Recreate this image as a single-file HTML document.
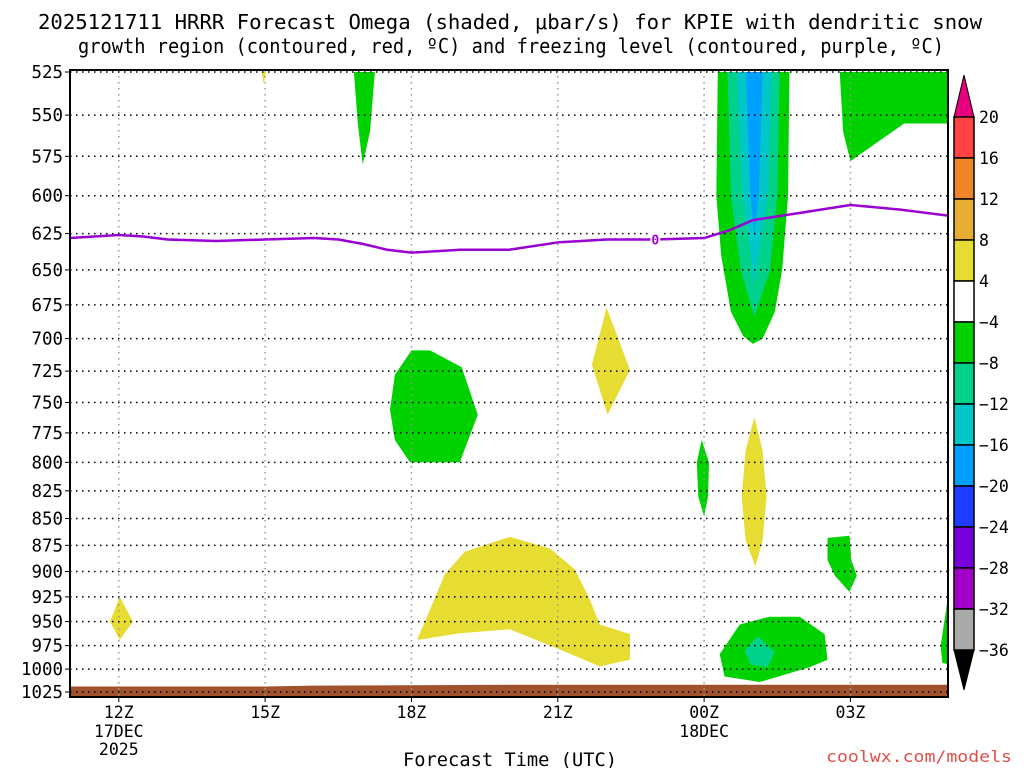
<!DOCTYPE html>
<html><head><meta charset="utf-8"><style>
body{margin:0;background:#fff;}
svg{display:block;font-family:"DejaVu Sans Mono","Liberation Mono",monospace;}
</style></head><body>
<svg id="c" width="1024" height="768" xmlns="http://www.w3.org/2000/svg">
<text x="38" y="29" font-size="20" textLength="944" lengthAdjust="spacingAndGlyphs">2025121711 HRRR Forecast Omega (shaded, μbar/s) for KPIE with dendritic snow</text>
<text x="78" y="53" font-size="20" textLength="866" lengthAdjust="spacingAndGlyphs">growth region (contoured, red, ºC) and freezing level (contoured, purple, ºC)</text>
<text x="403" y="766" font-size="19" textLength="214" lengthAdjust="spacingAndGlyphs">Forecast Time (UTC)</text>
<text x="826" y="762" font-size="16" fill="#e0504a" textLength="186" lengthAdjust="spacingAndGlyphs">coolwx.com/models</text>
<g id="plot"></g>
</svg>
<script>
const pLevels=[525,550,575,600,625,650,675,700,725,750,775,800,825,850,875,900,925,950,975,1000,1025];
const xTicks=[1,4,7,10,13,16];
const xTickLabels=["12Z","15Z","18Z","21Z","00Z","03Z"];
const xDateLabels=[["17DEC","2025"],[],[],[],["18DEC"],[]];
const cbLevels=[20,16,12,8,4,-4,-8,-12,-16,-20,-24,-28,-32,-36];
const cbColors=["#ff4242","#f0852a","#e6ad32","#e6dc32","#ffffff","#00d200","#00d28c","#00c8c8","#00a0ff","#1e3cff","#7800dc","#a000c8","#aaaaaa"];
const freezeHours=[0,0.5,1,1.5,2,3,4,5,5.5,6,6.5,7,7.5,8,9,10,11,12,13,13.5,14,15,16,17,18];
const freezeP=[628,627,626,627,629,630,629,628,629,632,636,638,637,636,636,631,629,629,628,623,616,611,606,609,613];
const labelHour=12;
const surfaceHours=[0,4,5,9,18];
const surfaceP=[1019,1019,1018,1017,1017];
const shadedAreas=[
["#00d200",[[5.82,525],[6.25,525],[6.15,560],[6.0,580],[5.9,555]]],
["#e6dc32",[[3.93,525],[4.02,525],[3.97,532]]],
["#00d200",[[15.78,525],[18,525],[18,555],[17.1,555],[16.0,578],[15.85,560]]],
["#00d200",[[13.28,525],[14.75,525],[14.72,600],[14.6,650],[14.45,680],[14.2,700],[14.0,704],[13.8,698],[13.55,680],[13.35,640],[13.25,600]]],
["#00d28c",[[13.48,525],[14.55,525],[14.5,600],[14.35,650],[14.03,684],[13.75,650],[13.55,600]]],
["#00c8c8",[[13.67,525],[14.39,525],[14.3,600],[14.03,660],[13.8,600]]],
["#00a0ff",[[13.85,525],[14.2,525],[14.12,600],[14.03,626],[13.95,600]]],
["#00d200",[[6.56,756],[6.66,728],[7.0,709],[7.38,709],[8.03,722],[8.36,760],[7.99,800],[6.97,800],[6.66,781]]],
["#e6dc32",[[11.0,677],[11.48,724],[11.02,760],[10.7,720]]],
["#00d200",[[12.95,781],[13.1,800],[13.08,830],[13.0,848],[12.88,830],[12.85,800]]],
["#e6dc32",[[14.03,762],[14.2,790],[14.28,830],[14.2,870],[14.05,895],[13.85,870],[13.77,830],[13.85,790]]],
["#00d200",[[15.53,868],[15.98,866],[16.02,889],[16.13,904],[15.98,920],[15.68,904],[15.53,889]]],
["#e6dc32",[[7.13,967],[7.38,938],[7.68,903],[8.09,881],[9.02,867],[9.84,878],[10.35,898],[10.66,928],[10.86,953],[11.48,963],[11.48,990],[10.86,997],[10.04,979],[9.02,958],[7.99,962],[7.13,969]]],
["#e6dc32",[[1.02,925],[1.29,950],[1.02,969],[0.82,950]]],
["#00d200",[[13.32,984],[13.73,953],[14.34,945],[14.96,945],[15.47,963],[15.53,990],[15.16,998],[14.14,1014],[13.42,1008]]],
["#00d28c",[[14.1,965],[14.45,982],[14.3,998],[13.95,995],[13.83,980]]],
["#00d200",[[18,925],[17.85,975],[17.88,993],[18,995]]]
];
const X0=70,X1=948,Y0=72,Y1=692,H0=0,H1=18,PT=525,PB=1025;
function xS(h){return X0+(h-H0)/(H1-H0)*(X1-X0);}
function yS(p){return Y0+Math.log(p/PT)/Math.log(PB/PT)*(Y1-Y0);}
const NS="http://www.w3.org/2000/svg";
const g=document.getElementById('plot');
function mk(t,a,parent){const e=document.createElementNS(NS,t);for(const k in a)e.setAttribute(k,a[k]);(parent||g).appendChild(e);return e;}
const clip=mk('clipPath',{id:'pc'});mk('rect',{x:X0,y:70,width:X1-X0,height:Y1+5-70},clip);
const inner=mk('g',{'clip-path':'url(#pc)'});


shadedAreas.forEach((s,i)=>{
  const e=mk('polygon',{points:s[1].map(d=>xS(d[0])+','+yS(d[1])).join(' '),fill:s[0]},inner);
  
  
});
{
  let pts=surfaceHours.map((h,i)=>xS(h)+','+yS(surfaceP[i]));
  pts.push(X1+','+(Y1+6),X0+','+(Y1+6));
  const e=mk('polygon',{points:pts.join(' '),fill:'#a0522d'},inner);
  
  
}
xTicks.forEach((h,i)=>{
  const e=mk('line',{x1:xS(h),x2:xS(h),y1:70,y2:Y1+4,stroke:'#999',"stroke-dasharray":"1.5,4.5","stroke-width":1.5},inner);
  
  
});
pLevels.forEach(p=>{
  const e=mk('line',{x1:X0,x2:X1,y1:yS(p),y2:yS(p),stroke:'#000',"stroke-dasharray":"1.5,4.5","stroke-width":1.5},inner);
  
  
});
{
  const e=mk('polyline',{points:freezeHours.map((h,i)=>xS(h)+','+yS(freezeP[i])).join(' '),fill:'none',stroke:'#9b00d2',"stroke-width":2.5,"stroke-linejoin":"round"},inner);
  
  
  const li=freezeHours.indexOf(labelHour);
  const lx=xS(freezeHours[li]),ly=yS(freezeP[li]);
  mk('rect',{x:lx-5,y:ly-8,width:10,height:15,fill:'#fff'},inner);
  const t=mk('text',{x:lx,y:ly+5,"text-anchor":"middle","font-size":13,"font-weight":"bold",fill:'#9b00d2'},inner);
  t.textContent='0';
  
  
}
{const e=mk('rect',{x:X0,y:70,width:X1-X0,height:Y1+5-70,fill:'none',stroke:'#000',"stroke-width":2});

}
pLevels.forEach(p=>{
  mk('line',{x1:X0-5,x2:X0,y1:yS(p),y2:yS(p),stroke:'#000'});
  const s=String(p);
  const t=mk('text',{x:63,y:yS(p)+6,"text-anchor":"end","font-size":17.5,textLength:s.length*10.5,lengthAdjust:"spacingAndGlyphs"});
  t.textContent=s;
  
  
});
xTicks.forEach((h,i)=>{
  mk('line',{x1:xS(h),x2:xS(h),y1:Y1+5,y2:Y1+10,stroke:'#000'});
  const t=mk('text',{x:xS(h),y:718,"text-anchor":"middle","font-size":16.5});
  t.textContent=xTickLabels[i];
  
  
  xDateLabels[i].forEach((d,j)=>{
    const u=mk('text',{x:xS(h),y:737+j*18,"text-anchor":"middle","font-size":16.5});
    u.textContent=d;
    
    
  });
});
const CX=954,CW=20,CT=117,CSTEP=41;
const cb=mk('g',{});


mk('polygon',{points:`${CX},${CT} ${CX+CW},${CT} ${CX+CW/2},${CT-42}`,fill:'#e6007e',stroke:'#000'},cb);
cbColors.forEach((c,i)=>{
  const e=mk('rect',{x:CX,y:CT+i*CSTEP,width:CW,height:CSTEP,fill:c,stroke:'#000',"stroke-width":1.5},cb);
  
  
});
const cbBot=CT+cbColors.length*CSTEP;
mk('polygon',{points:`${CX},${cbBot} ${CX+CW},${cbBot} ${CX+CW/2},${cbBot+40}`,fill:'#000',stroke:'#000'},cb);
cbLevels.forEach((v,i)=>{
  const t=mk('text',{x:979,y:CT+i*CSTEP+6,"font-size":16.5},cb);
  t.textContent=v<0?'\u2212'+(-v):String(v);
  
  
});
</script>
</body></html>
